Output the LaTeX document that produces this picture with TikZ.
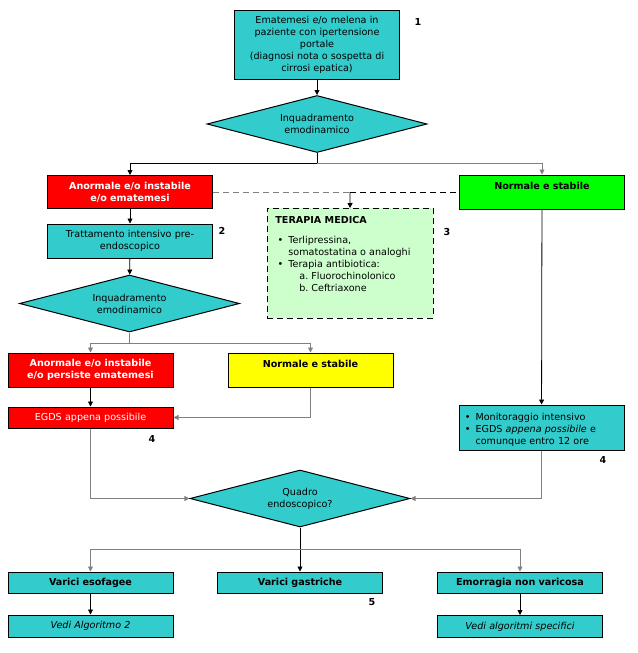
\documentclass[tikz,border=0pt]{standalone}
\usepackage{fontspec}
\setmainfont{DejaVu Sans}
\usepackage{enumitem}
\usetikzlibrary{shapes.geometric,arrows.meta}
\definecolor{turch}{HTML}{33CCCC}
\definecolor{rosso}{HTML}{FF0000}
\definecolor{verde}{HTML}{00FF00}
\definecolor{giallo}{HTML}{FFFF00}
\definecolor{verdino}{HTML}{CCFFCC}
\definecolor{grigio}{HTML}{808080}
\tikzset{
  testo/.style={font=\fontsize{9.6}{12}\selectfont},
  box/.style={testo, draw, line width=1pt, fill=turch, minimum width=165pt, text width=162pt, align=center, inner sep=0pt},
  boxrosso/.style={box, fill=rosso, text=white},
  grassetto/.style={font=\fontsize{9.6}{12}\selectfont\bfseries},
  dia/.style={testo, diamond, draw, line width=1pt, fill=turch, aspect=3.9, inner sep=0pt, minimum width=220pt, minimum height=57pt, align=center},
  num/.style={font=\fontsize{9.6}{11}\selectfont\bfseries},
  lin/.style={line width=0.8pt},
  tratteggio/.style={dash pattern=on 6pt off 4pt},
  arr/.style={lin, -{Triangle[length=5pt,width=5pt]}}
}
\begin{document}
\begin{tikzpicture}[x=1pt, y=-1pt]
\useasboundingbox (0,0) rectangle (637,653);
\node[box, minimum height=69pt] (ematemesi) at (317,44.5) {Ematemesi e/o melena in\\ paziente con ipertensione\\ portale\\ (diagnosi nota o sospetta di\\ cirrosi epatica)};
\node[num] (n1) at (418,22) {1};
\node[dia] (inq1) at (317,124) {Inquadramento\\ emodinamico};
\coordinate (s1) at (317,163);
\node[boxrosso, minimum height=33pt, grassetto] (anorm1) at (130,192) {Anormale e/o instabile\\ e/o ematemesi};
\node[box, fill=verde, minimum height=34pt, grassetto] (norm1) at (542,192) {Normale e stabile\\ \mbox{}};
\coordinate (t1) at (350,192);
\node[testo, draw, tratteggio, line width=0.8pt, fill=verdino, anchor=north west, inner xsep=8pt, inner ysep=8pt] (terapia) at (267,208) {\begin{minipage}[t][94pt][t]{150pt}
\textbf{TERAPIA MEDICA}\par\vspace{8pt}
\begin{itemize}[leftmargin=13pt,labelsep=5pt,nosep]
\item Terlipressina,\\ somatostatina o analoghi
\item Terapia antibiotica:
  \begin{enumerate}[label=\alph*.,leftmargin=23pt,labelsep=3pt,nosep]
  \item Fluorochinolonico
  \item Ceftriaxone
  \end{enumerate}
\end{itemize}
\end{minipage}};
\node[num] (n3) at (447,232) {3};
\node[box, minimum height=34pt] (tratt) at (130,241) {Trattamento intensivo pre-\\endoscopico};
\node[num] (n2) at (222,231) {2};
\node[dia] (inq2) at (129.5,303.5) {Inquadramento\\ emodinamico};
\coordinate (s2) at (129.5,343);
\node[boxrosso, minimum height=34pt, grassetto] (anorm2) at (90.5,370) {Anormale e/o instabile\\ e/o persiste ematemesi};
\node[box, fill=giallo, minimum height=34pt, grassetto] (stabile2) at (310.5,370) {Normale e stabile\\ \mbox{}};
\node[boxrosso, minimum height=21pt] (egds) at (90.5,417.5) {EGDS appena possibile};
\node[num] (n4a) at (152,439) {4};
\node[box, minimum height=45pt, align=left, text width=152pt] (monit) at (541.5,427.5) {\begin{itemize}[leftmargin=10pt,labelsep=5pt,nosep]
\item Monitoraggio intensivo
\item EGDS \emph{appena possibile} e\\ comunque entro 12 ore
\end{itemize}};
\node[num] (n4b) at (603,460) {4};
\node[dia] (quadro) at (300,498.5) {Quadro\\ endoscopico?};
\coordinate (s3) at (300,549);
\node[box, minimum height=21pt, grassetto] (varesof) at (90.5,582.5) {Varici esofagee};
\node[box, minimum height=21pt, grassetto] (vargast) at (300,582.5) {Varici gastriche};
\node[box, minimum height=21pt, grassetto] (emorr) at (520,582.5) {Emorragia non varicosa};
\node[num] (n5) at (372,602) {5};
\node[box, minimum height=22pt, font=\fontsize{9.6}{12}\selectfont\itshape] (vedi2) at (90.5,626) {Vedi Algoritmo 2};
\node[box, minimum height=22pt, font=\fontsize{9.6}{12}\selectfont\itshape] (vedispec) at (520,626.5) {Vedi algoritmi specifici};
\draw[arr] (ematemesi) -- (inq1);
\draw[lin] (inq1) -- (s1);
\draw[arr] (s1) -| (anorm1);
\draw[arr, grigio] (s1) -| (norm1);
\draw[lin, tratteggio, grigio] (anorm1.east) -- (t1);
\draw[lin, tratteggio] (t1) -- (norm1.west);
\draw[arr] (t1) -- (terapia);
\draw[arr] (anorm1) -- (tratt);
\draw[arr] (tratt) -- (inq2);
\draw[lin, grigio] (inq2) -- (s2);
\draw[arr, grigio] (s2) -| (anorm2);
\draw[arr, grigio] (s2) -| (stabile2);
\draw[arr] (anorm2) -- (egds);
\draw[arr, grigio] (stabile2) |- (egds);
\draw[arr] (norm1) -- (monit);
\draw[arr, grigio] (egds) |- (quadro);
\draw[arr, grigio] (monit) |- (quadro);
\draw[lin] (quadro) -- (s3);
\draw[arr, grigio] (s3) -| (varesof);
\draw[arr] (s3) -- (vargast);
\draw[arr, grigio] (s3) -| (emorr);
\draw[arr] (varesof) -- (vedi2);
\draw[arr] (emorr) -- (vedispec);
\end{tikzpicture}
\end{document}
